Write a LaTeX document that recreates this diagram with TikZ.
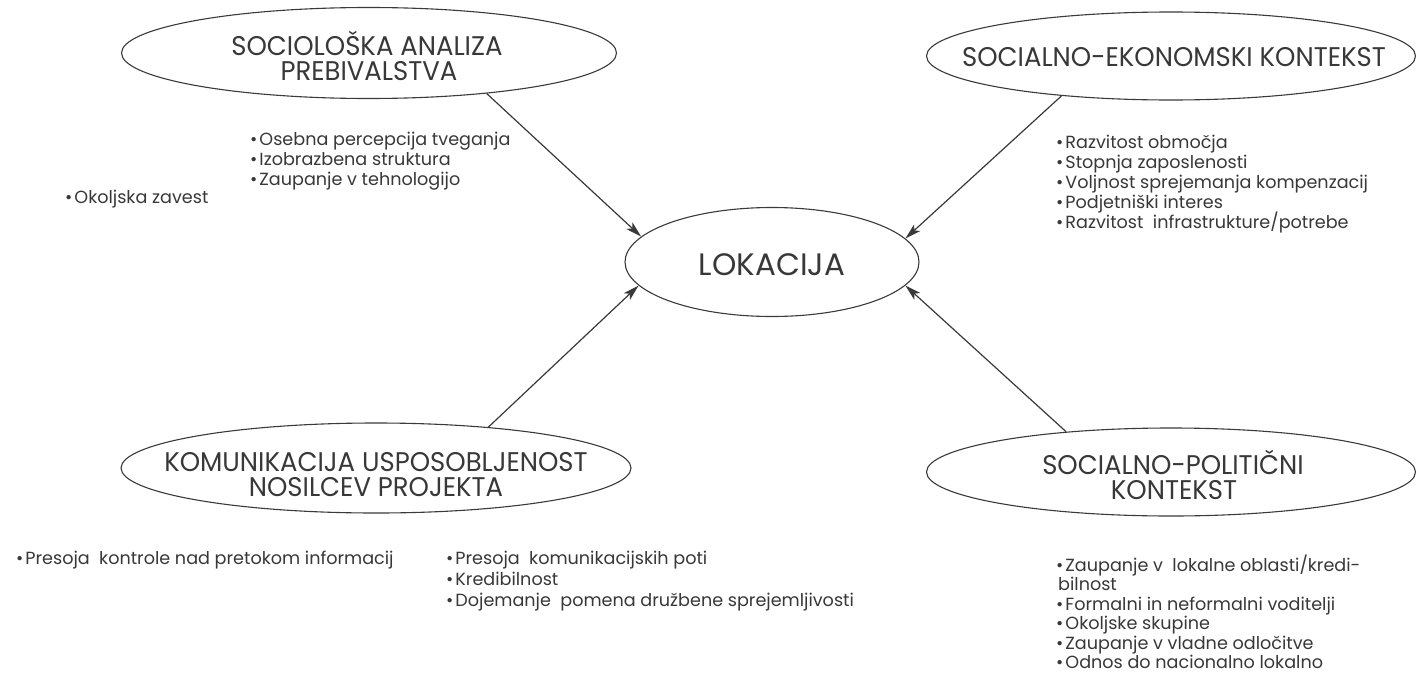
\documentclass[tikz,border=0pt]{standalone}
\usepackage{fontspec}
\setmainfont{Poppins}
\newfontfamily\ttlfont{Poppins}[FakeStretch=0.96]
\usetikzlibrary{shapes.geometric,arrows.meta}
\definecolor{txt}{HTML}{383838}
\definecolor{ln}{HTML}{3A3A3A}
\newcommand{\mybul}{\textbullet\hspace{2pt}}
\tikzset{
  ell/.style={draw=ln, line width=1.1pt, ellipse, inner sep=0pt},
  ttl/.style={anchor=base, inner sep=0pt, text=txt, font=\ttlfont\fontsize{27}{27}\selectfont},
  big/.style={anchor=base, inner sep=0pt, text=txt, font=\fontsize{31}{31}\selectfont},
  item/.style={anchor=base west, inner sep=0pt, text=txt, font=\fontsize{17.6}{20}\selectfont},
  arr/.style={draw=ln, line width=1.2pt, -{Stealth[length=16pt,width=9pt,inset=4pt]}}
}
\begin{document}
\begin{tikzpicture}[x=1pt,y=-1pt]
\useasboundingbox[fill=white] (0,0) rectangle (1416,672);
% ellipses
\node[ell, minimum width=495pt, minimum height=91pt] (soc) at (369,53) {};
\node[ell, minimum width=489pt, minimum height=88pt] (eko) at (1171,56) {};
\node[ell, minimum width=294pt, minimum height=109pt] (lok) at (772,262) {};
\node[ell, minimum width=510pt, minimum height=90pt] (kom) at (376,468) {};
\node[ell, minimum width=489pt, minimum height=88pt] (pol) at (1171,472) {};
% titles
\node[ttl] (socA) at (367,55) {SOCIOLOŠKA ANALIZA};
\node[ttl] (socB) at (369,80) {PREBIVALSTVA};
\node[ttl] (ekoA) at (1174,66) {SOCIALNO-EKONOMSKI KONTEKST};
\node[big] (lokA) at (772,275) {LOKACIJA};
\node[ttl] (komA) at (376,471) {KOMUNIKACIJA USPOSOBLJENOST};
\node[ttl] (komB) at (376,496) {NOSILCEV PROJEKTA};
\node[ttl] (polA) at (1173,474) {SOCIALNO-POLITIČNI};
\node[ttl] (polB) at (1174,499) {KONTEKST};
% arrows
\draw[arr] (soc.-19) -- (lok.169.5);
\draw[arr] (eko.200.7) -- (lok.10.1);
\draw[arr] (kom.20) -- (lok.190.9);
\draw[arr] (pol.159.5) -- (lok.-10.8);
% lists
\foreach \t [count=\i] in {Osebna percepcija tveganja, Izobrazbena struktura, Zaupanje v tehnologijo}
  \node[item] (sa\i) at (250,{145+20*(\i-1)}) {\mybul\t};
\node[item] (ok) at (65,203) {\mybul Okoljska zavest};
\foreach \t [count=\i] in {Razvitost območja, Stopnja zaposlenosti, Voljnost sprejemanja kompenzacij, Podjetniški interes, Razvitost\ \ infrastrukture/potrebe}
  \node[item] (se\i) at (1056,{148+20*(\i-1)}) {\mybul\t};
\node[item] (pk) at (16,564) {\mybul Presoja\ \ kontrole nad pretokom informacij};
\foreach \t [count=\i] in {Presoja\ \ komunikacijskih poti, Kredibilnost, Dojemanje\ \ pomena družbene sprejemljivosti}
  \node[item] (ku\i) at (446,{564+21*(\i-1)}) {\mybul\t};
\node[item] (sp1) at (1056,571) {\mybul Zaupanje v\ \ lokalne oblasti/kredi-};
\node[item] (sp2) at (1058,590) {bilnost};
\foreach \t [count=\i] in {Formalni in neformalni voditelji, Okoljske skupine, Zaupanje v vladne odločitve, Odnos do nacionalno lokalno}
  \node[item] (sq\i) at (1056,{610+19.5*(\i-1)}) {\mybul\t};
\end{tikzpicture}
\end{document}
